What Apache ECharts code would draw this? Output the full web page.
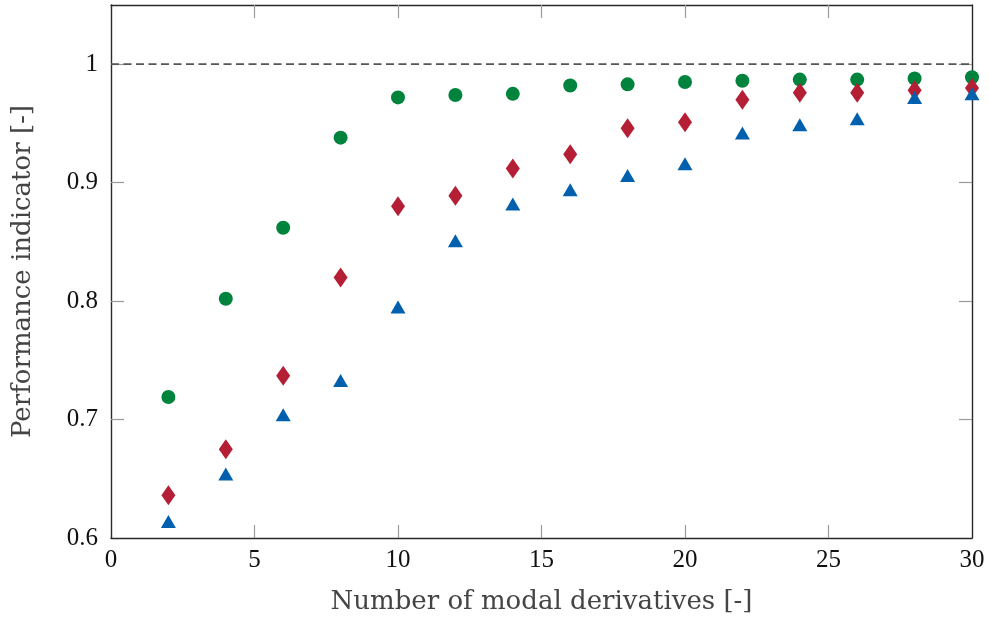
<!DOCTYPE html>
<html>
<head>
<meta charset="utf-8">
<script src="https://cdn.jsdelivr.net/npm/echarts@6/dist/echarts.min.js"></script>
<style>
  html, body { margin: 0; padding: 0; background: #fff; }
  #chart { width: 989px; height: 623px; }
</style>
</head>
<body>
<div id="chart"></div>
<script>
// Number of modal derivatives
const derivatives = [2, 4, 6, 8, 10, 12, 14, 16, 18, 20, 22, 24, 26, 28, 30];

// Performance indicator for the three cases
const greenCircles = [0.719, 0.802, 0.862, 0.938, 0.972, 0.974, 0.975, 0.982, 0.983, 0.985, 0.986, 0.987, 0.987, 0.988, 0.989];
const redDiamonds  = [0.636, 0.675, 0.737, 0.820, 0.880, 0.889, 0.912, 0.924, 0.946, 0.951, 0.970, 0.976, 0.976, 0.978, 0.980];
const blueTriangles = [0.614, 0.654, 0.704, 0.733, 0.795, 0.851, 0.882, 0.894, 0.906, 0.916, 0.942, 0.949, 0.954, 0.972, 0.975];

// Reference level
const referenceLevel = 1;

// Axis ticks
const xTicks = [0, 5, 10, 15, 20, 25, 30];
const yTicks = [0.6, 0.7, 0.8, 0.9, 1];
const xMin = 0, xMax = 30, yMin = 0.6, yMax = 1.05;

const TICK_FONT = '"Liberation Serif", "DejaVu Serif", serif';
const TITLE_FONT = '"DejaVu Serif", "Liberation Serif", serif';

function pairs(ys) {
  return derivatives.map((x, i) => [x, ys[i]]);
}

// inner ticks only (the frame corners carry no tick marks)
const xInner = xTicks.filter(v => v > xMin && v < xMax);
const yInner = yTicks.filter(v => v > yMin && v < yMax);

function tickStyle(values) {
  return { show: true, inside: true, length: 13, customValues: values, lineStyle: { color: '#9a9a9a', width: 1.2 } };
}
const frameLine = { show: true, onZero: false, lineStyle: { color: '#2a2a2a', width: 1.4 } };

const chart = echarts.init(document.getElementById('chart'), null, { renderer: 'canvas' });
chart.setOption({
  animation: false,
  backgroundColor: '#fff',
  grid: { left: 111, right: 17, top: 5, bottom: 85, containLabel: false },
  xAxis: [
    {
      type: 'value', min: xMin, max: xMax, interval: 5,
      position: 'bottom',
      axisLine: frameLine, axisTick: tickStyle(xInner), splitLine: { show: false },
      axisLabel: { color: '#111', fontFamily: TICK_FONT, fontSize: 25, margin: 10, customValues: xTicks },
      name: 'Number of modal derivatives [-]',
      nameLocation: 'middle', nameGap: 51,
      nameTextStyle: { color: '#444', fontFamily: TITLE_FONT, fontSize: 26 }
    },
    {
      type: 'value', min: xMin, max: xMax, interval: 5,
      position: 'top',
      axisLine: frameLine, axisTick: tickStyle(xInner), splitLine: { show: false },
      axisLabel: { show: false }
    }
  ],
  yAxis: [
    {
      type: 'value', min: yMin, max: yMax, interval: 0.1,
      position: 'left',
      axisLine: frameLine, axisTick: tickStyle(yInner), splitLine: { show: false },
      axisLabel: {
        color: '#111', fontFamily: TICK_FONT, fontSize: 25, margin: 13,
        customValues: yTicks,
        formatter: v => (Math.abs(v - 1) < 1e-9 ? '1' : v.toFixed(1))
      },
      name: 'Performance indicator [-]',
      nameLocation: 'middle', nameGap: 75,
      nameTextStyle: { color: '#444', fontFamily: TITLE_FONT, fontSize: 26 }
    },
    {
      type: 'value', min: yMin, max: yMax, interval: 0.1,
      position: 'right',
      axisLine: frameLine, axisTick: tickStyle(yInner), splitLine: { show: false },
      axisLabel: { show: false }
    }
  ],
  series: [
    {
      type: 'line', data: [[xMin, referenceLevel], [xMax, referenceLevel]],
      symbol: 'none', silent: true, z: 1,
      lineStyle: { color: '#555', width: 1.8, type: [8, 4.5] }
    },
    {
      name: 'circles', type: 'scatter', data: pairs(greenCircles),
      symbol: 'circle', symbolSize: 14, z: 3,
      itemStyle: { color: '#00843d', opacity: 1 }
    },
    {
      name: 'diamonds', type: 'scatter', data: pairs(redDiamonds),
      symbol: 'diamond', symbolSize: [14, 20], z: 4,
      itemStyle: { color: '#b51f35', opacity: 1 }
    },
    {
      name: 'triangles', type: 'scatter', data: pairs(blueTriangles),
      symbol: 'triangle', symbolSize: [15, 13], z: 5,
      itemStyle: { color: '#0060ad', opacity: 1 }
    }
  ]
});
</script>
</body>
</html>
